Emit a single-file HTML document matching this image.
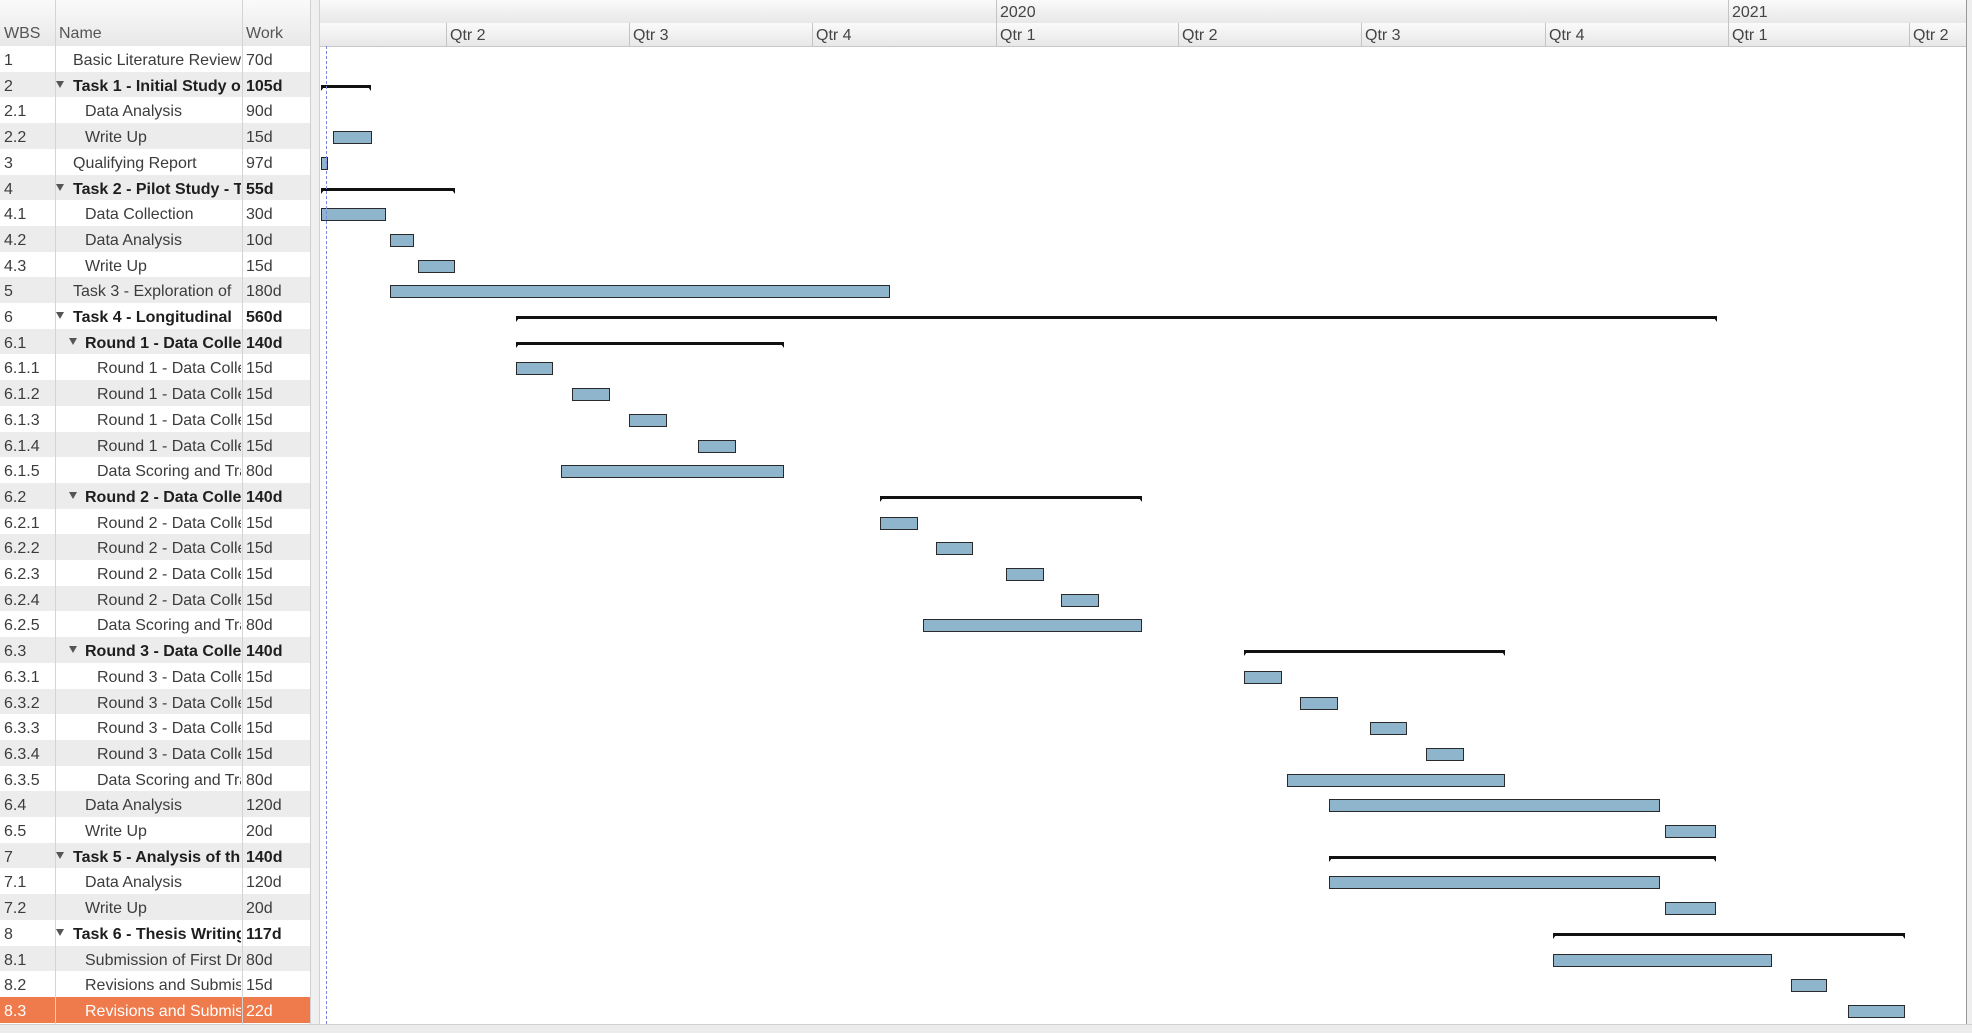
<!DOCTYPE html>
<html><head><meta charset="utf-8"><style>
body{margin:0;width:1972px;height:1032px;overflow:hidden;background:#fff;font-family:"Liberation Sans","DejaVu Sans",sans-serif;position:relative}
.a{position:absolute}
.hd{background:linear-gradient(#fafafa,#e8e8e8);}
.t{position:absolute;font-size:16px;color:#3c3c3c;white-space:nowrap;overflow:hidden;line-height:25.7px;padding-top:2px}
.bar{position:absolute;background:#8fb5cc;border:1.5px solid #2a2a2a;box-sizing:border-box;height:13px}
.sum{position:absolute;height:3px;background:#111}
.sum:before,.sum:after{content:"";position:absolute;top:2px;border-top:4px solid #111}
.sum:before{left:0;border-right:3px solid transparent}
.sum:after{right:0;border-left:3px solid transparent}
</style></head><body>
<div class="a hd" style="left:0;top:0;width:310px;height:46px;border-bottom:1px solid #c8c8c8"></div>
<div class="t" style="left:4px;top:19px;color:#555">WBS</div>
<div class="t" style="left:59px;top:19px;color:#555">Name</div>
<div class="t" style="left:246px;top:19px;color:#555">Work</div>
<div class="a" style="left:310px;top:0;width:10px;height:1032px;background:#f0f0f0;border-left:1px solid #d0d0d0;border-right:1px solid #d0d0d0;box-sizing:border-box"></div>
<div class="a hd" style="left:320px;top:0;width:1646px;height:23px;border-bottom:1px solid #c8c8c8"></div>
<div class="a hd" style="left:320px;top:23px;width:1646px;height:23px;border-bottom:1px solid #c8c8c8"></div>
<div class="a" style="left:1966px;top:0;width:6px;height:1032px;background:#eee;border-left:1px solid #999"></div>
<div id="L"></div><div id="C"></div>
<div class="a" style="left:326px;top:46px;height:978px;border-left:1.5px dashed #7a86e0"></div>
<div class="a" style="left:0;top:1024px;width:1972px;height:8px;background:#ececec;border-top:1px solid #d0d0d0"></div>
<script>
var rows=[
["1","Basic Literature Review",0,"70d",0],
["2","Task 1 - Initial Study of",1,"105d",1,["s",321,371]],
["2.1","Data Analysis",2,"90d",0],
["2.2","Write Up",2,"15d",0,["b",333,372]],
["3","Qualifying Report",1.0,"97d",0,["b",321,328]],
["4","Task 2 - Pilot Study - Te",1,"55d",1,["s",321,455]],
["4.1","Data Collection",2,"30d",0,["b",321,386]],
["4.2","Data Analysis",2,"10d",0,["b",390,414]],
["4.3","Write Up",2,"15d",0,["b",418,455]],
["5","Task 3 - Exploration of",1.0,"180d",0,["b",390,890]],
["6","Task 4  - Longitudinal",1,"560d",1,["s",516,1717]],
["6.1","Round 1 - Data Colle",2,"140d",1,["s",516,784]],
["6.1.1","Round 1 - Data Colle",3,"15d",0,["b",516,553]],
["6.1.2","Round 1 - Data Colle",3,"15d",0,["b",572,610]],
["6.1.3","Round 1 - Data Colle",3,"15d",0,["b",629,667]],
["6.1.4","Round 1 - Data Colle",3,"15d",0,["b",698,736]],
["6.1.5","Data Scoring and Tra",3,"80d",0,["b",561,784]],
["6.2","Round 2 - Data Colle",2,"140d",1,["s",880,1142]],
["6.2.1","Round 2 - Data Colle",3,"15d",0,["b",880,918]],
["6.2.2","Round 2 - Data Colle",3,"15d",0,["b",936,973]],
["6.2.3","Round 2 - Data Colle",3,"15d",0,["b",1006,1044]],
["6.2.4","Round 2 - Data Colle",3,"15d",0,["b",1061,1099]],
["6.2.5","Data Scoring and Tra",3,"80d",0,["b",923,1142]],
["6.3","Round 3 - Data Colle",2,"140d",1,["s",1244,1505]],
["6.3.1","Round 3 - Data Colle",3,"15d",0,["b",1244,1282]],
["6.3.2","Round 3 - Data Colle",3,"15d",0,["b",1300,1338]],
["6.3.3","Round 3 - Data Colle",3,"15d",0,["b",1370,1407]],
["6.3.4","Round 3 - Data Colle",3,"15d",0,["b",1426,1464]],
["6.3.5","Data Scoring and Tra",3,"80d",0,["b",1287,1505]],
["6.4","Data Analysis",2,"120d",0,["b",1329,1660]],
["6.5","Write Up",2,"20d",0,["b",1665,1716]],
["7","Task 5 - Analysis of th",1,"140d",1,["s",1329,1716]],
["7.1","Data Analysis",2,"120d",0,["b",1329,1660]],
["7.2","Write Up",2,"20d",0,["b",1665,1716]],
["8","Task 6 - Thesis Writing",1,"117d",1,["s",1553,1905]],
["8.1","Submission of First Dr",2,"80d",0,["b",1553,1772]],
["8.2","Revisions and Submiss",2,"15d",0,["b",1791,1827]],
["8.3","Revisions and Submiss",2,"22d",0,["b",1848,1905]]];
var L="",C="",H=25.7;
rows.forEach(function(r,i){
 var y=46+H*i, last=i==rows.length-1;
 var bg=last?"#ef7a4b":(i%2?"#ececec":"#fff");
 var col=last?"#fff":"#3c3c3c";
 L+='<div class="a" style="left:0;top:'+y+'px;width:310px;height:'+H+'px;background:'+bg+'"></div>';
 L+='<div class="t" style="left:4px;top:'+y+'px;color:'+col+'">'+r[0]+'</div>';
 var lvl=r[2]; if(i==0)lvl=1;
 var nx=lvl==1?73:(lvl==2?85:97);
 if(r[4]){var tx=lvl==1?56:69;L+='<div class="a" style="left:'+tx+'px;top:'+(y+9)+'px;border-left:4.5px solid transparent;border-right:4.5px solid transparent;border-top:7px solid #555"></div>';}
 L+='<div class="t" style="left:'+nx+'px;top:'+y+'px;width:'+(241-nx)+'px;color:'+(last?"#fff":(r[4]?"#1e1e1e":col))+';font-weight:'+(r[4]?"bold":"normal")+'">'+r[1]+'</div>';
 L+='<div class="t" style="left:246px;top:'+y+'px;color:'+(last?"#fff":(r[4]?"#1e1e1e":col))+';font-weight:'+(r[4]?"bold":"normal")+'">'+r[3]+'</div>';
 if(r[5]){var b=r[5];
  if(b[0]=="b")C+='<div class="bar" style="left:'+b[1]+'px;top:'+(y+8)+'px;width:'+(b[2]-b[1])+'px"></div>';
  else C+='<div class="sum" style="left:'+b[1]+'px;top:'+(y+13)+'px;width:'+(b[2]-b[1])+'px"></div>';}
});
L+='<div class="a" style="left:55px;top:0;height:1024px;border-left:1px solid #d4d4d4"></div>';
L+='<div class="a" style="left:242px;top:0;height:1024px;border-left:1px solid #d4d4d4"></div>';
var q=[[446,"Qtr 2"],[629,"Qtr 3"],[812,"Qtr 4"],[996,"Qtr 1"],[1178,"Qtr 2"],[1361,"Qtr 3"],[1545,"Qtr 4"],[1728,"Qtr 1"],[1909,"Qtr 2"]];
q.forEach(function(e){C+='<div class="a" style="left:'+e[0]+'px;top:23px;height:23px;border-left:1px solid #c4c4c4"></div><div class="t" style="left:'+(e[0]+4)+'px;top:21px;line-height:25px;color:#444">'+e[1]+'</div>';});
[[996,"2020"],[1728,"2021"]].forEach(function(e){C+='<div class="a" style="left:'+e[0]+'px;top:0;height:23px;border-left:1px solid #c4c4c4"></div><div class="t" style="left:'+(e[0]+4)+'px;top:-1px;line-height:24px;color:#444">'+e[1]+'</div>';});
document.getElementById("L").innerHTML=L;document.getElementById("C").innerHTML=C;
</script>
</body></html>
